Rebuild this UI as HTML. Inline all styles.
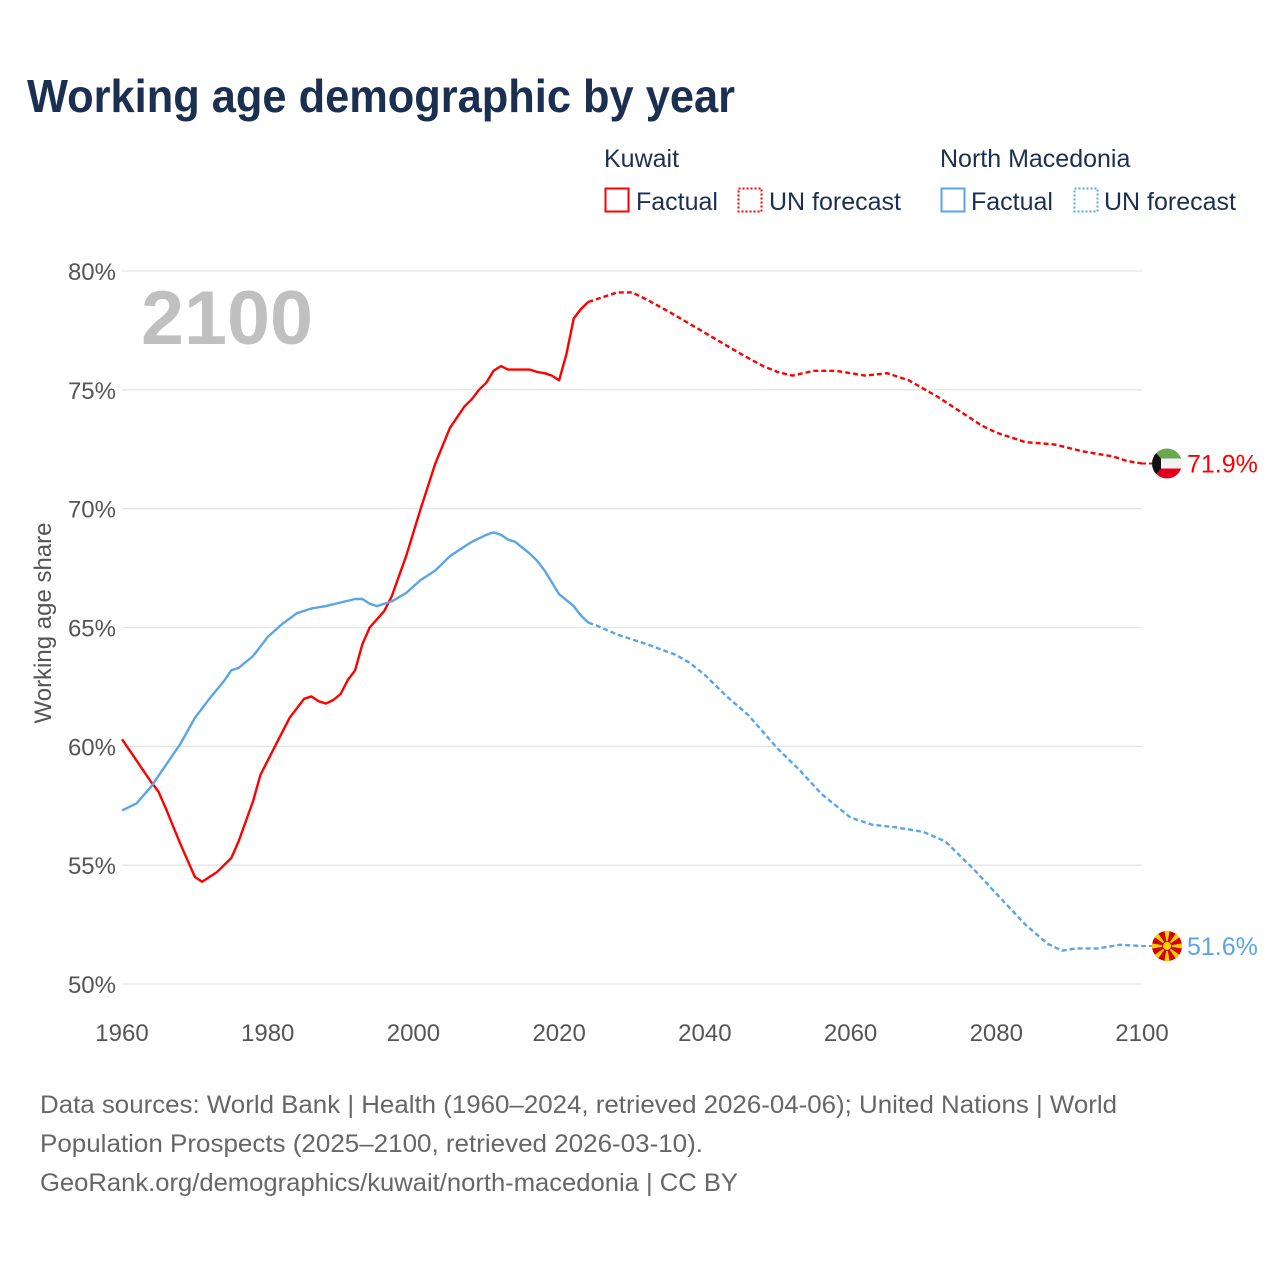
<!DOCTYPE html>
<html><head><meta charset="utf-8"><style>
html,body{margin:0;padding:0;background:#fff;}
body{width:1280px;height:1280px;overflow:hidden;font-family:"Liberation Sans",sans-serif;}
</style></head><body>
<svg id="chart" width="1280" height="1280" viewBox="0 0 1280 1280" xmlns="http://www.w3.org/2000/svg" font-family="Liberation Sans, sans-serif">
<text x="27" y="112" font-size="46" font-weight="bold" fill="#1b3050" textLength="708" lengthAdjust="spacingAndGlyphs">Working age demographic by year</text>
<g>
<text x="604" y="167" font-size="25" fill="#1b3050">Kuwait</text>
<rect x="605.5" y="188.5" width="23" height="23" fill="none" stroke="#f00" stroke-width="2"/>
<text x="636" y="210" font-size="25" fill="#1b3050">Factual</text>
<rect x="738.5" y="188.5" width="23" height="23" fill="none" stroke="#f00" stroke-width="2" stroke-dasharray="2,2"/>
<text x="769" y="210" font-size="25" fill="#1b3050">UN forecast</text>
<text x="940" y="167" font-size="25" fill="#1b3050">North Macedonia</text>
<rect x="941.5" y="188.5" width="23" height="23" fill="none" stroke="#5aa5ea" stroke-width="2"/>
<text x="971" y="210" font-size="25" fill="#1b3050">Factual</text>
<rect x="1074.5" y="188.5" width="23" height="23" fill="none" stroke="#5aa5ea" stroke-width="2" stroke-dasharray="2,2"/>
<text x="1104" y="210" font-size="25" fill="#1b3050">UN forecast</text>
</g>
<text x="141" y="344" font-size="76" font-weight="bold" fill="#c0c0c0" textLength="172" lengthAdjust="spacingAndGlyphs">2100</text>
<text transform="translate(51,623) rotate(-90)" text-anchor="middle" font-size="24" fill="#555">Working age share</text>
<g id="grid"></g><g id="series"></g>
<text font-size="25" fill="#666">
<tspan x="40" y="1113" textLength="1077" lengthAdjust="spacingAndGlyphs">Data sources: World Bank | Health (1960–2024, retrieved 2026-04-06); United Nations | World</tspan>
<tspan x="40" y="1152" textLength="663" lengthAdjust="spacingAndGlyphs">Population Prospects (2025–2100, retrieved 2026-03-10).</tspan>
<tspan x="40" y="1191" textLength="698" lengthAdjust="spacingAndGlyphs">GeoRank.org/demographics/kuwait/north-macedonia | CC BY</tspan>
</text>
</svg>
<script>
const yTicks=[50,55,60,65,70,75,80];
const xTicks=[1960,1980,2000,2020,2040,2060,2080,2100];
const kwYears=[1960,1962,1964,1965,1966,1968,1970,1971,1973,1975,1976,1978,1979,1981,1983,1985,1986,1987,1988,1989,1990,1991,1992,1993,1994,1996,1997,1999,2001,2003,2005,2007,2008,2009,2010,2011,2012,2013,2016,2017,2018,2019,2020,2021,2022,2023,2024];
const kwVals=[60.3,59.4,58.5,58.1,57.4,55.9,54.5,54.3,54.7,55.3,56.0,57.7,58.8,60.0,61.2,62.0,62.1,61.9,61.8,61.95,62.2,62.8,63.2,64.3,65.0,65.7,66.3,68.0,70.0,71.9,73.4,74.3,74.6,75.0,75.3,75.8,76.0,75.85,75.85,75.75,75.7,75.6,75.4,76.5,78.0,78.4,78.7];
const kwFYears=[2024,2025,2028,2030,2032,2035,2040,2045,2048,2050,2052,2055,2058,2060,2062,2065,2068,2072,2076,2078,2080,2084,2088,2092,2096,2098,2100];
const kwFVals=[78.7,78.8,79.1,79.1,78.8,78.3,77.4,76.5,76.0,75.75,75.6,75.8,75.8,75.7,75.6,75.7,75.4,74.7,73.9,73.5,73.2,72.8,72.7,72.4,72.2,72.0,71.9];
const mkYears=[1960,1962,1964,1966,1968,1970,1972,1974,1975,1976,1978,1980,1982,1984,1986,1988,1990,1992,1993,1994,1995,1997,1999,2001,2003,2005,2006,2008,2010,2011,2012,2013,2014,2016,2017,2018,2020,2022,2023,2024];
const mkVals=[57.3,57.6,58.3,59.2,60.1,61.2,62.0,62.75,63.2,63.3,63.8,64.6,65.15,65.6,65.8,65.9,66.05,66.2,66.2,66.0,65.9,66.1,66.45,67.0,67.4,68.0,68.2,68.6,68.9,69.0,68.9,68.7,68.6,68.1,67.8,67.4,66.4,65.9,65.5,65.2];
const mkFYears=[2024,2025,2028,2032,2036,2038,2040,2043,2046,2050,2053,2056,2060,2063,2066,2070,2073,2077,2080,2084,2087,2089,2091,2094,2097,2100];
const mkFVals=[65.2,65.1,64.7,64.3,63.85,63.5,63.0,62.1,61.3,59.9,59.0,58.0,57.0,56.7,56.6,56.4,56.0,54.8,53.8,52.5,51.7,51.4,51.5,51.5,51.65,51.6];

const NS="http://www.w3.org/2000/svg";
const X0=122,X1=1142,Y0=984,Y1=271;
const xs=y=>X0+(y-1960)*(X1-X0)/140;
const ys=v=>Y0-(v-50)*(Y0-Y1)/30;
function mk(tag,attrs,parent){const e=document.createElementNS(NS,tag);for(const k in attrs)e.setAttribute(k,attrs[k]);parent.appendChild(e);return e;}
const grid=document.getElementById('grid'),ser=document.getElementById('series');
yTicks.forEach(t=>{
  const l=mk('line',{x1:X0,x2:X1,y1:ys(t),y2:ys(t),stroke:'#e6e6e6','stroke-width':1.3},grid);
  
  
  const tx=mk('text',{x:116,y:ys(t)+9,'text-anchor':'end','font-size':24,fill:'#555'},grid);
  tx.textContent=t+'%';
  
  
});
xTicks.forEach(t=>{
  const tx=mk('text',{x:xs(t),y:1041,'text-anchor':'middle','font-size':24,fill:'#555'},grid);
  tx.textContent=t;
  
  
});
function line(yrs,vals,color,dash,name){
  const d=yrs.map((y,i)=>(i?'L':'M')+xs(y).toFixed(1)+','+ys(vals[i]).toFixed(1)).join('');
  const p=mk('path',{d:d,fill:'none',stroke:color,'stroke-width':2.4,'stroke-linejoin':'round'},ser);
  if(dash)p.setAttribute('stroke-dasharray','5,3');
  
  
}
line(kwYears,kwVals,'#ff0000',false,'kuwait-factual-line');
line(kwFYears,kwFVals,'#ff0000',true,'kuwait-forecast-line');
line(mkYears,mkVals,'#5aa5ea',false,'macedonia-factual-line');
line(mkFYears,mkFVals,'#5aa5ea',true,'macedonia-forecast-line');
const kEnd=kwFVals[kwFVals.length-1], mEnd=mkFVals[mkFVals.length-1];
mk('line',{x1:X1,x2:1152,y1:ys(kEnd),y2:ys(kEnd),stroke:'#f00','stroke-width':2,'stroke-dasharray':'4,3'},ser);
mk('line',{x1:X1,x2:1152,y1:ys(mEnd),y2:ys(mEnd),stroke:'#5aa5ea','stroke-width':2,'stroke-dasharray':'4,3'},ser);
const kf=mk('g',{},ser);


const ky=ys(kEnd),kx=1167;
mk('clipPath',{id:'ck'},kf);
mk('circle',{cx:kx,cy:ky,r:15},document.getElementById('ck'));
const kg=mk('g',{'clip-path':'url(#ck)'},kf);
mk('rect',{x:kx-15,y:ky-15,width:30,height:10,fill:'#6aa84f'},kg);
mk('rect',{x:kx-15,y:ky-5,width:30,height:10,fill:'#f2f2f2'},kg);
mk('rect',{x:kx-15,y:ky+5,width:30,height:10,fill:'#e0001b'},kg);
mk('polygon',{points:`${kx-15},${ky-15} ${kx-6},${ky-5} ${kx-6},${ky+5} ${kx-15},${ky+15}`,fill:'#111'},kg);
const kt=mk('text',{x:1187,y:ky+9,'font-size':25,fill:'#f00'},ser);
kt.textContent=kEnd.toFixed(1)+'%';


const mf=mk('g',{},ser);


const my=ys(mEnd),mx=1167;
mk('clipPath',{id:'cm'},mf);
mk('circle',{cx:mx,cy:my,r:15},document.getElementById('cm'));
const mg=mk('g',{'clip-path':'url(#cm)'},mf);
mk('rect',{x:mx-15,y:my-15,width:30,height:30,fill:'#d20000'},mg);
for(let i=0;i<8;i++){const a=i*Math.PI/4,w=0.17;
 mk('polygon',{points:`${mx},${my} ${mx+22*Math.cos(a-w)},${my+22*Math.sin(a-w)} ${mx+22*Math.cos(a+w)},${my+22*Math.sin(a+w)}`,fill:'#ffd200'},mg);}
mk('circle',{cx:mx,cy:my,r:4.5,fill:'#ffd200',stroke:'#d20000','stroke-width':1},mg);
const mt=mk('text',{x:1187,y:my+9,'font-size':25,fill:'#5aa5ea'},ser);
mt.textContent=mEnd.toFixed(1)+'%';


</script>
</body></html>
